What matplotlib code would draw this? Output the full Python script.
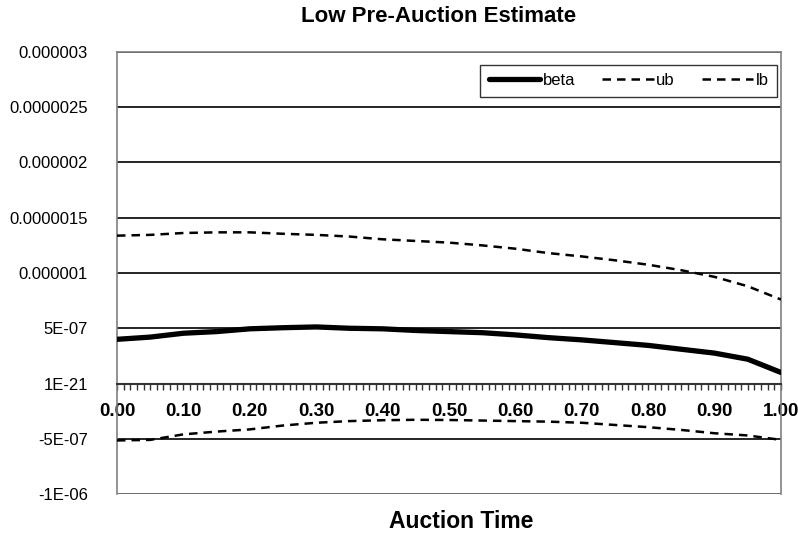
import numpy as np
import matplotlib
matplotlib.use("Agg")
import matplotlib.pyplot as plt
from matplotlib.ticker import FixedLocator, MultipleLocator

plt.rcParams['font.family'] = ['Liberation Sans', 'DejaVu Sans']

# =========================
# Data (in units of 1e-6)
# =========================
auction_time = [0.00, 0.05, 0.10, 0.15, 0.20, 0.25, 0.30, 0.35, 0.40, 0.45, 0.50,
                0.55, 0.60, 0.65, 0.70, 0.75, 0.80, 0.85, 0.90, 0.95, 1.00]
beta = [0.40, 0.42, 0.455, 0.47, 0.495, 0.505, 0.512, 0.50, 0.495, 0.48, 0.47,
        0.46, 0.44, 0.415, 0.395, 0.37, 0.345, 0.31, 0.275, 0.22, 0.10]
ub = [1.338, 1.345, 1.362, 1.368, 1.368, 1.355, 1.345, 1.33, 1.305, 1.29, 1.275,
      1.25, 1.22, 1.18, 1.15, 1.115, 1.075, 1.025, 0.965, 0.88, 0.76]
lb = [-0.515, -0.51, -0.46, -0.435, -0.415, -0.38, -0.355, -0.34, -0.332, -0.328, -0.33,
      -0.335, -0.34, -0.345, -0.355, -0.375, -0.395, -0.42, -0.45, -0.47, -0.51]

y_ticks = [-1e-6, -5e-7, 0, 5e-7, 1e-6, 1.5e-6, 2e-6, 2.5e-6, 3e-6]
y_labels = ["-1E-06", "-5E-07", "1E-21", "5E-07", "0.000001", "0.0000015",
            "0.000002", "0.0000025", "0.000003"]
x_ticks = [0.0, 0.1, 0.2, 0.3, 0.4, 0.5, 0.6, 0.7, 0.8, 0.9, 1.0]
x_labels = ["0.00", "0.10", "0.20", "0.30", "0.40", "0.50", "0.60", "0.70",
            "0.80", "0.90", "1.00"]

scale = 1e-6
t = np.array(auction_time)

# =========================
# Figure
# =========================
fig = plt.figure(figsize=(7.98, 5.37), dpi=100)
ax = fig.add_axes([0.1466, 0.080, 0.8321, 0.8232])

ax.plot(t, np.array(beta) * scale, color="black", lw=3.8,
        solid_capstyle="round", label="beta", zorder=4)
ax.plot(t, np.array(ub) * scale, color="black", lw=1.8,
        linestyle=(0, (3.4, 2.4)), label="ub", zorder=4)
ax.plot(t, np.array(lb) * scale, color="black", lw=1.8,
        linestyle=(0, (3.4, 2.4)), label="lb", zorder=4)

ax.set_xlim(0, 1)
ax.set_ylim(-1e-6, 3e-6)

# Gridlines
ax.set_yticks(y_ticks)
ax.set_yticklabels(y_labels, fontsize=12)
ax.yaxis.grid(True, color="black", lw=1.2)
ax.set_axisbelow(True)
ax.tick_params(axis="y", length=0, pad=21)

# X axis sits at zero
ax.spines["bottom"].set_position(("data", 0))
ax.spines["bottom"].set_color("#333333")
ax.spines["bottom"].set_linewidth(1.5)
ax.spines["bottom"].set_zorder(3)
for side in ["left", "right", "top"]:
    ax.spines[side].set_color("#808080")
    ax.spines[side].set_linewidth(1.2)

ax.xaxis.set_major_locator(FixedLocator(x_ticks))
ax.set_xticklabels(x_labels, fontsize=13.5, fontweight="bold")
ax.xaxis.set_minor_locator(MultipleLocator(0.01))
ax.tick_params(axis="x", which="both", direction="out", length=4,
               width=1, color="#333333", pad=10)

# Outer box bottom edge (plot area border)
ax.axhline(-1e-6, color="#808080", lw=1.2, zorder=3)

fig.text(0.550, 1 - 16 / 537, "Low Pre-Auction Estimate", fontsize=16,
         fontweight="bold", ha="center", va="center")
fig.text(0.578, 1 - 522 / 537, "Auction Time", fontsize=16.5, fontweight="bold",
         ha="center", va="center")

leg = ax.legend(loc="upper right", bbox_to_anchor=(0.994, 0.9706), ncol=3,
                fontsize=12, frameon=True, fancybox=False, borderaxespad=0,
                handlelength=3.1, handletextpad=0.15, columnspacing=1.6,
                borderpad=0.5)
leg.get_frame().set_edgecolor("black")
leg.get_frame().set_linewidth(1.0)

fig.savefig("out.png", dpi=100)
